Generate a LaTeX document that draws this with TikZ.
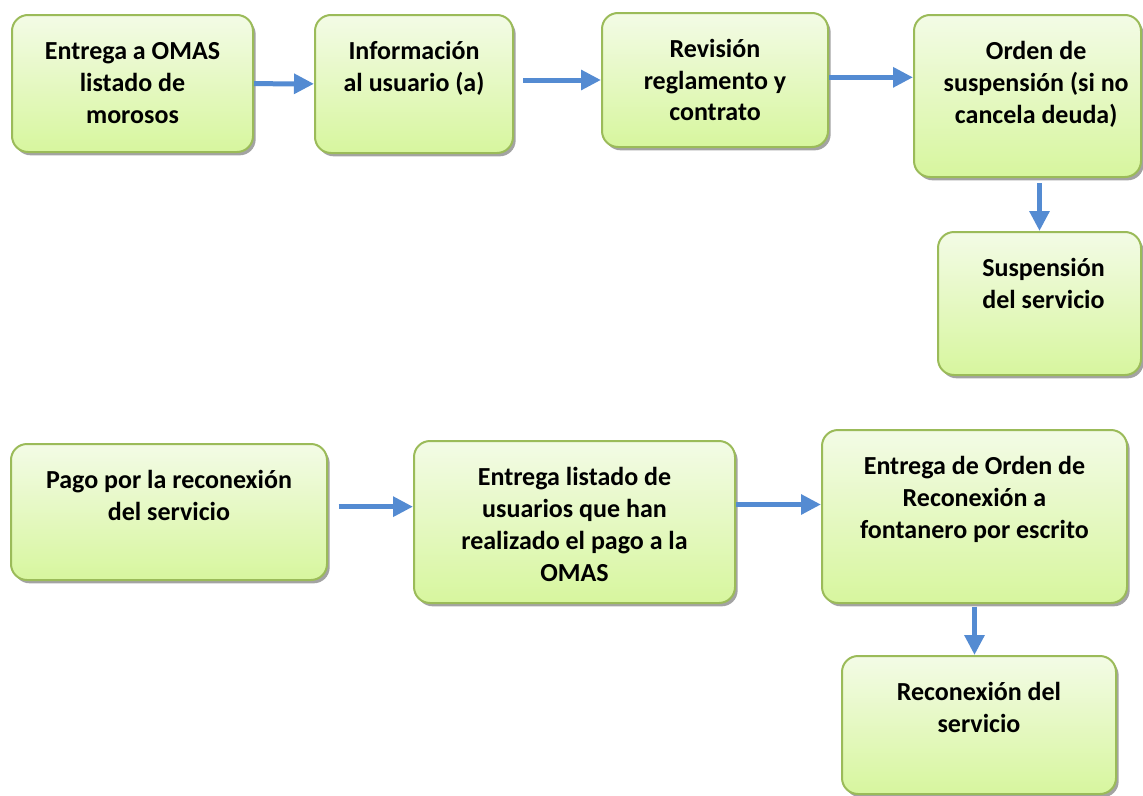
\documentclass[tikz,border=0pt]{standalone}
\usepackage{fontspec}
\setmainfont{Carlito}
\usetikzlibrary{shadows,arrows.meta}
\definecolor{boxtop}{RGB}{243,251,230}
\definecolor{boxbot}{RGB}{215,246,158}
\definecolor{boxline}{RGB}{155,187,89}
\definecolor{arrowblue}{RGB}{84,139,210}
\tikzstyle{proc}=[draw=boxline, line width=1.5pt, rounded corners=12pt,
top color=boxtop, bottom color=boxbot, inner sep=0pt,
font=\bfseries\fontsize{19.5}{24}\selectfont,
drop shadow={shadow xshift=2pt, shadow yshift=-2.5pt, fill=black!60, opacity=.6}]
\tikzstyle{flow}=[draw=arrowblue, line width=3.75pt, -{Triangle[length=15pt,width=14.5pt]}]
\newcommand{\proctext}[4][0pt]{\parbox[c][#3][t]{#2}{\centering\leftskip=#1 plus 1fil\rule{0pt}{33pt}#4}}

\begin{document}
\begin{tikzpicture}[x=0.75pt,y=-0.75pt]
\useasboundingbox (0,0) rectangle (1143,796);
\clip (0,0) rectangle (1143,796);
% upper row
\node[proc](ent) at (132.5,83.5) {\proctext{180.75pt}{102.75pt}{Entrega a OMAS\\listado de\\morosos}};
\node[proc](info) at (414,84) {\proctext{148.5pt}{103.5pt}{Información\\al usuario (a)}};
\node[proc](rev) at (715,80) {\proctext{169.5pt}{100.5pt}{Revisión\\reglamento y\\contrato}};
\node[proc](orden) at (1027.5,96) {\proctext[13pt]{170.25pt}{121.5pt}{Orden de\\suspensión (si no\\cancela deuda)}};
\node[proc](susp) at (1039.5,303.5) {\proctext[6pt]{152.25pt}{107.25pt}{Suspensión\\del servicio}};
% lower row
\node[proc](pago) at (169,512) {\proctext{237pt}{102pt}{Pago por la reconexión\\del servicio}};
\node[proc](entl) at (574.5,522) {\proctext{240.75pt}{121.5pt}{Entrega listado de\\usuarios que han\\realizado el pago a la\\OMAS}};
\node[proc](entor) at (974.5,516.5) {\proctext{228.75pt}{129.75pt}{Entrega de Orden de\\Reconexión a\\fontanero por escrito}};
\node[proc](recon) at (979,725) {\proctext{205.5pt}{103.5pt}{Reconexión del\\servicio}};
\draw [flow](ent) -- (info);
\draw [flow]([xshift=7pt]info.east |- rev.west) -- (rev.west);
\draw [flow]([yshift=2pt]rev.east) -- ([yshift=2pt]rev.east -| orden.west);
\draw [flow]([yshift=-4pt]orden.south -| susp.north) -- (susp.north);
\draw [flow]([xshift=8pt,yshift=4pt]pago.east) -- ([yshift=4pt]pago.east -| entl.west);
\draw [flow]([yshift=9pt]entor.west -| entl.east) -- ([yshift=9pt]entor.west);
\draw [flow]([yshift=-2pt]entor.south) -- (entor.south |- recon.north);
\end{tikzpicture}
\end{document}
